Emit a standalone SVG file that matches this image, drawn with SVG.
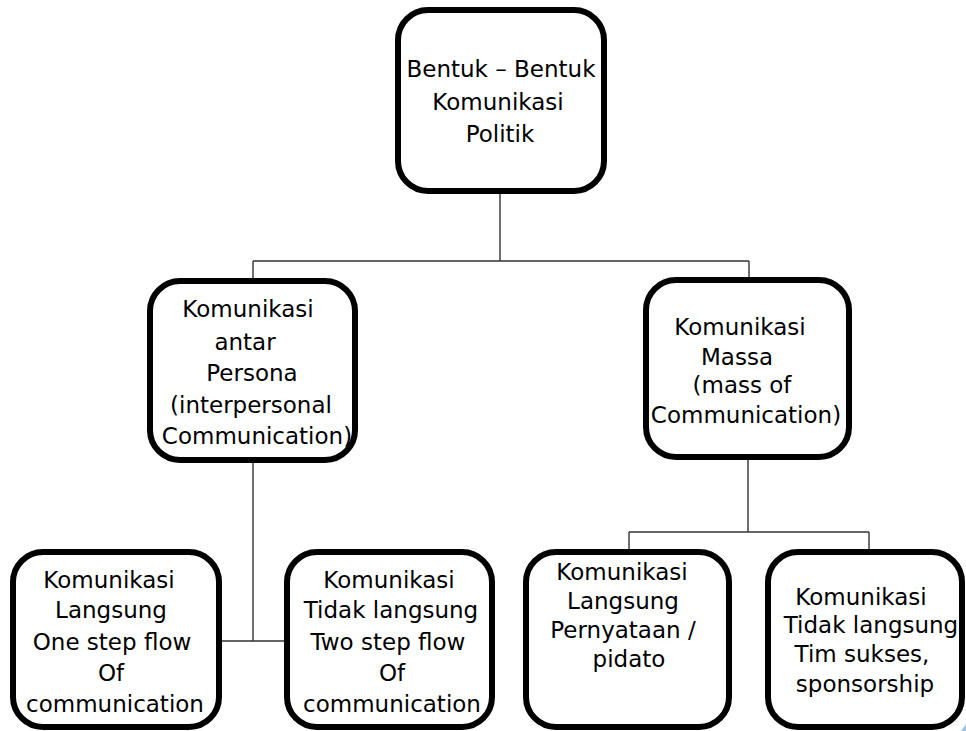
<svg xmlns="http://www.w3.org/2000/svg" width="966" height="731" viewBox="0 0 966 731">
<style>
.box{fill:#fff;stroke:#000;stroke-width:6}
.t{font-family:"DejaVu Sans","Liberation Sans",sans-serif;font-size:23px;fill:#000;text-anchor:middle}
.c{fill:none;stroke:#333;stroke-width:1.4}
</style>
<rect width="966" height="731" fill="#fff"/>
<g id="connectors">
<path class="c" d="M500,194V261M253,261H749M253,261V278M749,261V277"/>
<path class="c" d="M253,463V641M222,641H284"/>
<path class="c" d="M748,460V532M629,532H869M629,532V549M869,532V549"/>
</g>
<g id="n-root">
<rect class="box" x="398" y="10" width="206" height="181" rx="30"/>
<text class="t" x="501" y="77">Bentuk – Bentuk</text>
<text class="t" x="498" y="110">Komunikasi</text>
<text class="t" x="500" y="142">Politik</text>
</g>
<g id="n-antarpersona">
<rect class="box" x="150" y="281" width="205" height="179" rx="30"/>
<text class="t" x="248" y="317">Komunikasi</text>
<text class="t" x="245" y="350">antar</text>
<text class="t" x="252" y="381">Persona</text>
<text class="t" x="251" y="413">(interpersonal</text>
<text class="t" x="257" y="444">Communication)</text>
</g>
<g id="n-massa">
<rect class="box" x="646" y="280" width="203" height="177" rx="30"/>
<text class="t" x="740" y="335">Komunikasi</text>
<text class="t" x="737" y="365">Massa</text>
<text class="t" x="742" y="393">(mass of</text>
<text class="t" x="746" y="423">Communication)</text>
</g>
<g id="n-langsung1">
<rect class="box" x="13" y="552" width="206" height="175" rx="30"/>
<text class="t" x="109" y="588">Komunikasi</text>
<text class="t" x="111" y="618">Langsung</text>
<text class="t" x="112" y="650">One step flow</text>
<text class="t" x="111" y="681">Of</text>
<text class="t" x="115" y="712">communication</text>
</g>
<g id="n-tidaklangsung1">
<rect class="box" x="287" y="552" width="205" height="175" rx="30"/>
<text class="t" x="389" y="588">Komunikasi</text>
<text class="t" x="391" y="618">Tidak langsung</text>
<text class="t" x="388" y="650">Two step flow</text>
<text class="t" x="392" y="681">Of</text>
<text class="t" x="392" y="712">communication</text>
</g>
<g id="n-langsung2">
<rect class="box" x="526" y="552" width="203" height="175" rx="30"/>
<text class="t" x="622" y="580">Komunikasi</text>
<text class="t" x="623" y="609">Langsung</text>
<text class="t" x="623" y="638">Pernyataan /</text>
<text class="t" x="629" y="667">pidato</text>
</g>
<g id="n-tidaklangsung2">
<rect class="box" x="768" y="552" width="194" height="175" rx="30"/>
<text class="t" x="861" y="605">Komunikasi</text>
<text class="t" x="871" y="633">Tidak langsung</text>
<text class="t" x="862" y="662">Tim sukses,</text>
<text class="t" x="865" y="692">sponsorship</text>
</g>
<path d="M961,731L966,724V731Z" fill="#9dc3e6"/>
</svg>
